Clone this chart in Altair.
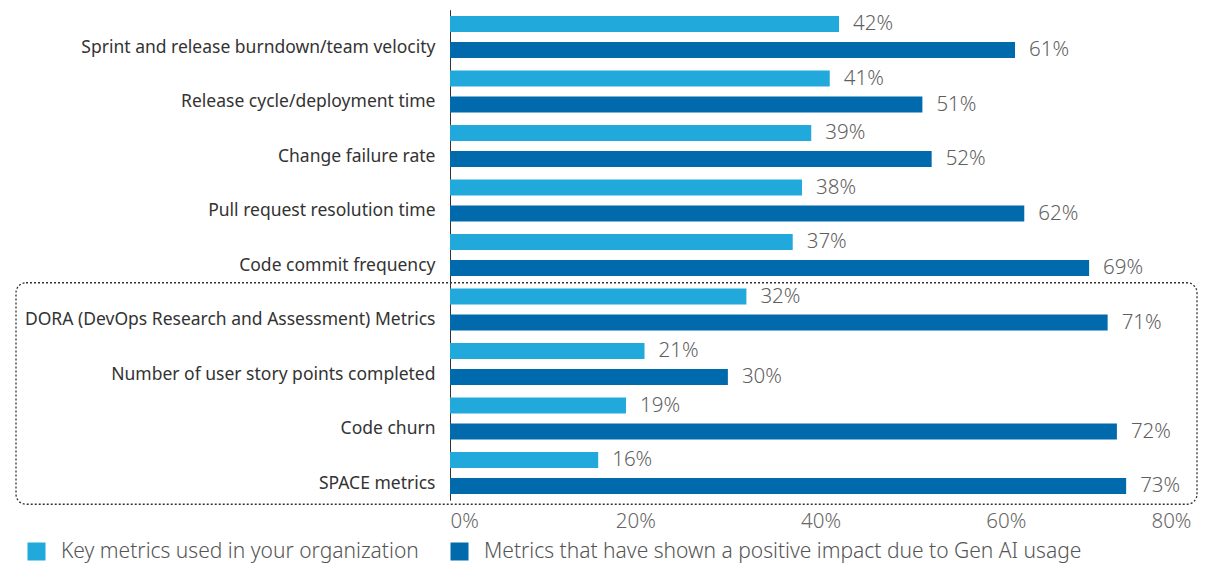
import altair as alt
import pandas as pd

categories = [
    "Sprint and release burndown/team velocity",
    "Release cycle/deployment time",
    "Change failure rate",
    "Pull request resolution time",
    "Code commit frequency",
    "DORA (DevOps Research and Assessment) Metrics",
    "Number of user story points completed",
    "Code churn",
    "SPACE metrics",
]
key_used = [42, 41, 39, 38, 37, 32, 21, 19, 16]
positive_impact = [61, 51, 52, 62, 69, 71, 30, 72, 73]
series_names = [
    "Key metrics used in your organization",
    "Metrics that have shown a positive impact due to Gen AI usage",
]
colors = ["#22A9DC", "#006AAC"]
x_ticks = [0, 20, 40, 60, 80]

rows = []
for c, a, b in zip(categories, key_used, positive_impact):
    rows.append({"category": c, "series": series_names[0], "value": a})
    rows.append({"category": c, "series": series_names[1], "value": b})
df = pd.DataFrame(rows)

FONT = "Noto Sans"

y_enc = alt.Y(
    "category:N",
    sort=categories,
    scale=alt.Scale(paddingInner=12.5 / 54.5, paddingOuter=12.5 / 54.5 / 2),
    axis=alt.Axis(
        title=None, ticks=False, grid=False, domainColor="#333333", domainWidth=1,
        labelFontSize=17.5, labelColor="#333333", labelPadding=15, labelOffset=10.5,
        labelLimit=0, labelFont=FONT,
    ),
)
yoff = alt.YOffset(
    "series:N", sort=series_names, scale=alt.Scale(paddingInner=10 / 26, paddingOuter=0)
)
x_enc = alt.X(
    "value:Q",
    scale=alt.Scale(domain=[0, 80], nice=False),
    axis=alt.Axis(
        values=x_ticks, labelExpr="datum.value + '%'", title=None, domain=False,
        ticks=False, grid=False, labelFlush=True, labelFontSize=20.5,
        labelColor="#666666", labelPadding=11, labelFont=FONT, labelFontWeight=300,
    ),
)
color_enc = alt.Color(
    "series:N",
    sort=series_names,
    scale=alt.Scale(domain=series_names, range=colors),
    legend=alt.Legend(
        title=None, orient="none", legendX=-424, legendY=531, direction="horizontal",
        symbolType="square", symbolSize=324, symbolStrokeWidth=0, labelFontSize=21,
        labelColor="#555555", labelOffset=14, columnPadding=30, padding=0,
        labelFont=FONT, labelLimit=0, labelFontWeight=300,
    ),
)

base = alt.Chart(df)
bars = base.mark_bar().encode(y=y_enc, yOffset=yoff, x=x_enc, color=color_enc)
labels = base.mark_text(align="left", baseline="middle", dx=14, fontSize=20.5,
                        color="#5f5f5f", font=FONT, fontWeight=300).encode(
    y=alt.Y("category:N", sort=categories),
    yOffset=alt.YOffset("series:N", sort=series_names),
    x="value:Q",
    text=alt.Text("label:N"),
).transform_calculate(label="datum.value + '%'")

frame = alt.Chart(pd.DataFrame({"a": [0]})).mark_rect(
    fillOpacity=0, stroke="#333333", strokeDash=[2, 2], strokeWidth=1.3, cornerRadius=10
).encode(
    x=alt.value(-434), x2=alt.value(747), y=alt.value(273), y2=alt.value(494.5)
)

chart = alt.layer(frame, bars, labels).properties(
    width=741, height=490.5,
    autosize=alt.AutoSizeParams(type="none"),
    padding={"left": 442, "top": 1.75, "right": 7, "bottom": 64},
).configure(font=FONT).configure_view(stroke=None)

chart.save("out.html", embed_options={"renderer": "svg", "actions": False})
